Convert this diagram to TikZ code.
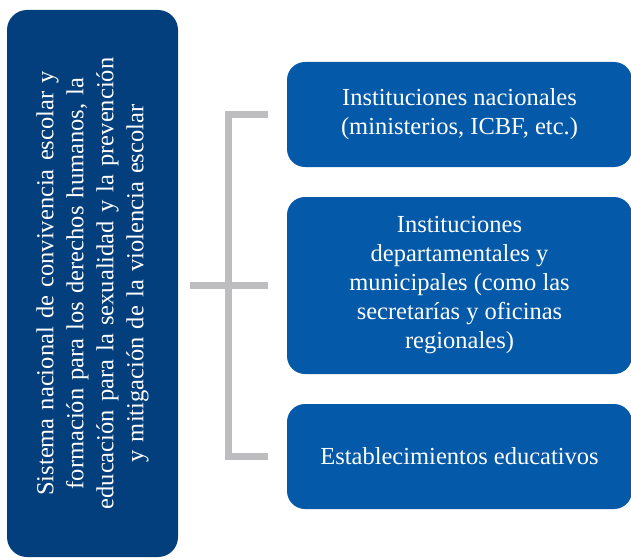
\documentclass[tikz,border=0pt]{standalone}
\usepackage{fontspec}
\setmainfont{Liberation Serif}
\usetikzlibrary{positioning}

\definecolor{navy}{HTML}{023F7C}
\definecolor{azul}{HTML}{0459A9}
\definecolor{gris}{HTML}{BDBDC0}

\begin{document}
\begin{tikzpicture}[x=1pt,y=-1pt,
    caja/.style={rounded corners=18pt,fill=azul,text=white,align=center,
      minimum width=345pt,font=\fontsize{24.5}{29}\selectfont},
    sistema/.style={rounded corners=20pt,fill=navy,text=white,align=center,
      rotate=90,minimum width=547pt,minimum height=171pt,text width=500pt,
      font=\fontsize{24.5}{30}\selectfont},
    llave/.style={draw=gris,line width=7pt}]
      \useasboundingbox (0,0) rectangle (631,559);

      \node[sistema] (sis) at (92.5,283.5) {Sistema nacional de convivencia escolar y\\
        formación para los derechos humanos, la\\
        educación para la sexualidad y la prevención\\
        y mitigación de la violencia escolar};

      \node[caja,minimum height=105pt] (nac) at (459.5,114.5)
        {Instituciones nacionales\\(ministerios, ICBF, etc.)};
      \node[caja,minimum height=177pt] (dep) at (459.5,285.5)
        {Instituciones\\departamentales y\\municipales (como las\\secretarías y oficinas\\regionales)};
      \node[caja,minimum height=105pt] (est) at (459.5,456.5)
        {Establecimientos educativos};

      \coordinate (lomo) at (228.5,0);
      \coordinate (ini) at (190,285.5);

      \draw[llave] ([xshift=-19pt]nac.west) -- (nac.west -| lomo) |- ([xshift=-19pt]est.west);
      \draw[llave] (ini) -- ([xshift=-19pt]dep.west);
    \end{tikzpicture}
\end{document}
